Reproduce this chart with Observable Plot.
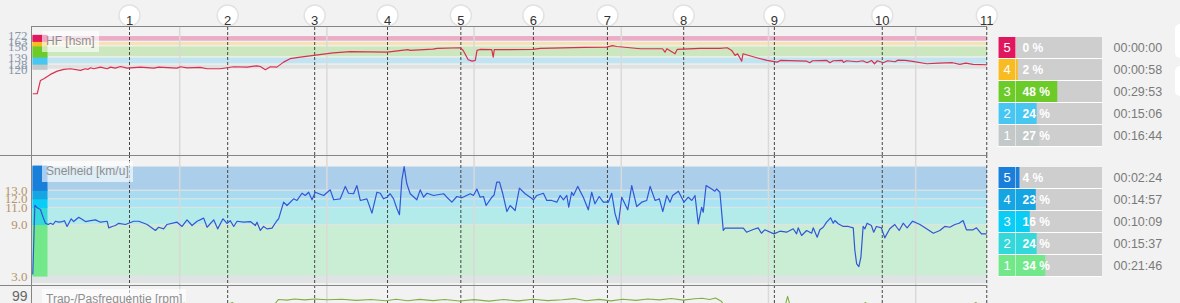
<!DOCTYPE html>
<html>
<head>
<meta charset="utf-8">
<script src="https://cdn.jsdelivr.net/npm/d3@7"></script>
<script src="https://cdn.jsdelivr.net/npm/@observablehq/plot@0.6"></script>
<style>
html,body{margin:0;padding:0;background:#f2f2f2;}
#wrap{position:relative;width:1180px;height:303px;overflow:hidden;font-family:"Liberation Sans",Arial,sans-serif;}
#wrap svg{position:absolute;overflow:hidden !important;max-width:none !important;}
.hl{position:absolute;background:#858585;z-index:5;}
.box{position:absolute;background:rgba(255,255,255,0.62);color:#8e8e8e;font-size:12px;line-height:21px;padding:0 4px;height:21px;white-space:nowrap;z-index:6;}
.tab{position:absolute;background:#fff;}
.nub{position:absolute;background:#fff;border-radius:5px;}
</style>
</head>
<body>
<div id="wrap"></div>
<script>
// ---------- data ----------
const totalMin = 64.88;
const lapNo  = [1, 2, 3, 4, 5, 6, 7, 8, 9, 10, 11];
const lapMin = [6.59, 13.26, 19.17, 24.12, 29.1, 34.03, 39.06, 44.24, 50.4, 57.73, 64.83];
const gridMin = [10, 20, 30, 40, 50, 60];

const hrT = [0.05,0.32,0.54,0.77,1.22,1.68,2.13,2.58,3.26,3.6,3.76,3.94,4.16,4.62,5.07,5.3,5.63,5.97,6.43,7.33,8.24,8.57,9.82,10.05,10.5,11.4,11.86,12.76,13.67,14.58,15.25,15.48,15.82,16.16,16.6,17.06,17.5,18.19,20.43,21.59,24.1,25.5,25.66,27.2,27.5,29.06,29.26,29.6,29.87,30.08,30.2,30.4,31.2,31.3,31.37,34.0,34.5,36.0,37.5,39.0,39.4,39.7,41.3,42.8,42.97,43.1,43.65,43.8,45.35,46.7,47.2,47.5,47.73,47.9,48.18,48.27,48.5,49.2,49.9,50.6,50.8,52.6,52.8,53.0,53.97,54.17,54.4,55.0,55.1,55.3,56.0,56.4,56.7,57.0,57.2,57.4,57.8,58.1,58.6,58.8,59.3,59.8,60.75,61.6,62.5,63.0,63.4,63.9,64.83];
const hrBpm = [83,83,103.5,106,112.8,117.8,120.5,121.5,119,121.5,120.5,123,121.5,124,121.5,124,122.5,125,122.5,124,122.5,124,122.5,124.6,123,123.5,121.5,121.5,124.6,124,126,125,120,124.6,124,131.7,137,139.4,146,148,147,151,149.7,151.7,153,153.8,149.7,135.4,133.2,134.3,149.7,151.2,150.8,139.4,150.8,151.2,153,153.5,154.5,154.8,157,155.8,152.3,152.3,147,152.3,144.6,151.2,153,153,153.8,149.7,142,144.6,133.2,144.6,143,138.5,134.3,131.7,134.3,133.2,130.8,133.8,134.3,130.8,133.8,134.3,131.2,133.8,132.3,133.8,130.8,134.3,129.2,133.8,130.8,133.8,132.3,134.8,134.3,132.8,129.2,130.2,130.8,128.2,130.2,128.2,127.7];

const spdT = [0.02,0.16,0.32,0.54,0.72,0.88,1.07,1.22,1.4,1.56,1.79,2.01,2.17,2.35,2.63,2.8,3.14,3.6,3.94,4.28,4.62,5.07,5.18,5.41,5.63,5.86,6.31,6.88,7.22,7.79,8.35,8.57,8.91,9.14,9.82,10.16,10.5,10.84,11.18,11.63,11.86,12.31,12.58,12.94,13.22,13.44,13.67,13.9,14.35,14.8,15.14,15.25,15.48,15.7,15.93,16.27,16.6,16.72,17.06,17.29,17.74,17.97,18.31,18.53,18.76,18.99,19.21,19.78,20.23,20.46,20.91,21.25,21.47,21.81,22.04,22.27,22.72,23.06,23.4,23.63,23.85,24.08,24.3,24.53,24.76,24.93,25.09,25.25,25.43,25.66,26.11,26.34,26.57,26.8,27.25,27.93,28.15,28.49,28.83,29.17,29.74,29.96,30.19,30.41,30.64,30.82,31.21,31.36,31.54,31.73,31.95,32.23,32.45,32.79,33.08,33.47,33.81,34.03,34.26,34.71,34.94,35.28,35.62,35.85,36.07,36.3,36.43,36.63,36.75,37.04,37.42,37.76,37.99,38.21,38.5,38.78,39.12,39.35,39.58,39.8,40.03,40.44,40.71,41.05,41.39,41.73,41.96,42.3,42.59,42.82,43.09,43.31,43.49,43.88,44.26,44.55,44.79,45.01,45.23,45.46,45.57,45.76,46.14,46.36,46.48,46.7,46.93,47.05,48.29,48.51,48.96,49.3,49.52,49.75,50.37,50.78,51.23,51.46,51.68,51.91,52.02,52.25,52.59,52.93,53.04,53.31,53.49,53.72,53.95,54.22,54.4,54.51,54.74,55.08,55.42,55.76,55.87,55.99,56.14,56.28,56.43,56.55,56.7,56.99,57.15,57.33,57.67,57.9,58.24,58.58,58.88,59.15,59.42,59.79,59.95,60.29,60.74,61.2,61.64,61.98,62.32,62.66,62.95,63.22,63.45,63.9,64.13,64.47,64.8];
const spdV = [3.3,11.3,11.0,10.8,9.9,9.2,9.06,9.2,9.06,9.44,9.33,9.4,9.5,8.83,9.72,9.4,9.9,9.4,9.5,9.6,9.33,9.44,8.67,8.83,8.94,9.2,9.06,9.44,9.44,9.06,8.36,8.74,8.55,9.06,9.33,8.83,9.6,8.94,9.44,9.8,8.74,9.6,8.55,9.72,9.2,9.5,8.83,9.44,9.33,9.4,8.94,9.33,8.36,8.83,8.55,8.63,9.5,9.72,11.66,11.27,12.05,11.86,12.7,12.44,12.82,11.94,12.82,12.44,13.1,11.94,12.05,13.5,12.7,12.64,13.6,11.86,12.05,10.38,12.82,12.7,12.05,12.24,12.64,12.05,10.9,10.2,14.2,15.8,13.8,12.64,11.94,13.1,12.24,12.7,12.44,12.64,12.24,11.66,12.32,12.17,12.64,12.44,13.2,12.24,12.32,11.27,12.24,12.5,14.0,14.0,12.64,10.57,11.27,10.69,13.3,12.64,12.24,11.94,12.44,12.7,11.86,11.86,11.66,12.44,11.94,12.44,11.07,12.82,12.44,13.5,12.24,10.77,12.82,11.47,12.32,11.66,11.66,12.7,10.3,9.06,12.24,10.77,13.6,11.15,11.66,11.86,13.5,11.86,12.05,10.57,12.44,11.66,12.44,12.94,11.66,12.24,11.86,12.44,9.14,11.07,10.49,13.6,13.2,12.94,13.2,12.82,8.36,8.63,8.63,8.16,8.48,8.67,8.04,8.44,7.97,8.28,8.16,8.36,8.56,7.97,8.67,7.78,8.36,8.04,8.67,7.58,8.44,8.74,9.33,9.84,9.21,9.52,9.14,8.83,8.83,8.67,6.03,4.48,4.16,5.25,8.83,8.56,9.21,8.94,8.16,8.83,8.67,7.5,8.56,9.06,8.36,9.21,8.67,9.44,9.33,9.06,8.56,8.04,8.36,8.83,8.74,9.06,9.21,9.52,8.44,8.44,8.67,7.97,7.97];

const cadT = [0,1,3,5,7,9,10.1,10.3,10.6,12,13.6,14,15,16.3,16.7,17.3,17.8,18.5,19.2,20,21,22,23,24,24.7,25.5,26.3,27.2,28,29,30,31,32,33,34,35,36,36.8,37.6,38.5,39.3,40.1,41,41.8,42.6,43.4,44.2,45,45.5,46,46.4,46.8,47.2,48,50,51.1,51.3,51.5,52,54,56,56.6,57,59,61,63,64.1,64.5,64.88];
const cadV = [80,85,86,86,87,88,88,94,88,87,94,88,87,90,96.5,96,97,96.2,97,96.3,96.8,95.8,96.5,95.5,96.8,95.5,96.6,95.6,96.5,95.3,96.4,95.2,96.5,95.4,96.8,95.6,96.3,97.3,95.5,96.6,95.4,96.8,95.8,97,96.2,97.4,96,97.2,97.6,96.5,97.8,95,88,86,88,90,99.2,90,87,88,89,94,88,87,88,87,94,88,88];

const hrZone = [1, 2, 3, 4, 5];
const hrLow  = [120, 128, 139, 156, 163];
const hrHigh = [128, 139, 156, 163, 172];
const hrPct  = [27, 24, 48, 2, 0];
const hrTime = ["00:16:44", "00:15:06", "00:29:53", "00:00:58", "00:00:00"];
const hrTicks = [120, 128, 139, 156, 163, 172];

const spdZone = [1, 2, 3, 4, 5];
const spdLow  = [3, 9, 11, 12, 13];
const spdHigh = [9, 11, 12, 13, 15.8];
const spdPct  = [34, 24, 16, 23, 4];
const spdTime = ["00:21:46", "00:15:37", "00:10:09", "00:14:57", "00:02:24"];
const spdTicks = [3, 9, 11, 12, 13];
const cadTicks = [99];

// ---------- styles ----------
const hrSat  = {1: "#c3c8c8", 2: "#46c6f0", 3: "#6ccb29", 4: "#f8bb22", 5: "#e0175e"};
const hrBand = {1: "#e0e1e1", 2: "#c2e3f0", 3: "#cce6bd", 4: "#f5e3b8", 5: "#ebadc5"};
const spdSat  = {1: "#72e88b", 2: "#35d8da", 3: "#0acdf6", 4: "#15a5e3", 5: "#1a7edb"};
const spdBand = {1: "#caeed4", 2: "#b3eaea", 3: "#a7e5f5", 4: "#a8daf0", 5: "#abcfea"};

const wrap = document.getElementById("wrap");
function place(node, left, top) {
  node.style.position = "absolute";
  node.style.left = left + "px";
  node.style.top = top + "px";
  wrap.appendChild(node);
}
function div(cls, left, top, w, h, text) {
  const d = document.createElement("div");
  d.className = cls;
  d.style.left = left + "px"; d.style.top = top + "px";
  if (w != null) d.style.width = w + "px";
  if (h != null) d.style.height = h + "px";
  if (text) d.textContent = text;
  wrap.appendChild(d);
  return d;
}

const xOpt = {domain: [0, totalMin], axis: null};
const common = {width: 1000, marginLeft: 32, marginRight: 13, marginBottom: 0};
const refMarks = () => [
  Plot.ruleX(gridMin, {stroke: "#d9d9d9", strokeWidth: 1.5}),
  Plot.ruleX(lapMin, {stroke: "#454545", strokeWidth: 1, strokeDasharray: "3,2"})
];

// ---------- HR panel ----------
const hrIdx = d3.range(hrZone.length);
const hrPlot = Plot.plot({
  ...common, height: 155, marginTop: 27,
  x: xOpt,
  y: {domain: [-12, 185], ticks: hrTicks, tickSize: 0, tickPadding: 5, label: null},
  style: {background: "transparent", fontFamily: "Liberation Serif", fontSize: "13px", color: "#8796ab", overflow: "hidden"},
  marks: [
    Plot.rect(hrIdx, {x1: 0, x2: totalMin, y1: i => hrLow[i], y2: i => hrHigh[i], fill: i => hrBand[hrZone[i]], insetTop: 0.6, insetBottom: 0.6}),
    Plot.ruleX(hrIdx, {x: 0, y1: i => hrLow[i], y2: i => hrHigh[i], stroke: i => hrSat[hrZone[i]], strokeWidth: 15, dx: 7.5, insetTop: 0.6, insetBottom: 0.6}),
    ...refMarks(),
    Plot.line(d3.range(hrT.length), {x: i => hrT[i], y: i => hrBpm[i], stroke: "#dc2f4f", strokeWidth: 1.2, clip: true}),
    Plot.dot(lapMin, {x: d => d, frameAnchor: "top", dy: -12, r: 10.5, fill: "white", stroke: "#e2e2e2"}),
    Plot.text(lapMin, {x: d => d, text: (d, i) => String(lapNo[i]), frameAnchor: "top", dy: -12, fill: "#333", fontSize: 13, fontFamily: "Liberation Sans"})
  ]
});
place(hrPlot, 0, 0);

// ---------- Speed panel ----------
const spdIdx = d3.range(spdZone.length);
const spdDomain = [1.95, 17.1];
const spdPlot = Plot.plot({
  ...common, height: 130, marginTop: 0,
  x: xOpt,
  y: {domain: spdDomain, ticks: spdTicks, tickFormat: d3.format(".1f"), tickSize: 0, tickPadding: 5, label: null},
  style: {background: "transparent", fontFamily: "Liberation Serif", fontSize: "13px", color: "#b3946c", overflow: "hidden"},
  marks: [
    Plot.rect([0], {x1: 0, x2: totalMin, y1: spdDomain[0], y2: d3.max(spdHigh), fill: "#e0e3e4", insetBottom: 2}),
    Plot.rect(spdIdx, {x1: 0, x2: totalMin, y1: i => spdLow[i], y2: i => spdHigh[i], fill: i => spdBand[spdZone[i]], insetTop: 0.6, insetBottom: 0.6}),
    Plot.ruleX(spdIdx, {x: 0, y1: i => spdLow[i], y2: i => spdHigh[i], stroke: i => spdSat[spdZone[i]], strokeWidth: 15, dx: 7.5, insetTop: 0.6, insetBottom: 0.6}),
    ...refMarks(),
    Plot.line(d3.range(spdT.length), {x: i => spdT[i], y: i => spdV[i], stroke: "#2f57d8", strokeWidth: 1.2, clip: true})
  ]
});
place(spdPlot, 0, 155);

// ---------- Cadence panel ----------
const cadPlot = Plot.plot({
  ...common, height: 18, marginTop: 0,
  x: xOpt,
  y: {domain: [93.2, 108.2], ticks: cadTicks, tickSize: 0, tickPadding: 5, label: null},
  style: {background: "transparent", fontFamily: "Liberation Sans", fontSize: "14px", color: "#666", overflow: "hidden"},
  marks: [
    ...refMarks(),
    Plot.line(d3.range(cadT.length), {x: i => cadT[i], y: i => cadV[i], stroke: "#7fb043", strokeWidth: 1.1, clip: true})
  ]
});
place(cadPlot, 0, 285);

// ---------- frame lines & labels ----------
div("hl", 32, 26, 955, 1);
div("hl", 31, 26, 1.3, 277);
div("hl", 0, 154.5, 987, 1.3);
div("hl", 0, 284.5, 987, 1.3);
div("box", 42, 31, null, null, "HF [hsm]");
div("box", 42, 161, null, null, "Snelheid [km/u]");
div("box", 42, 289, null, null, "Trap-/Pasfrequentie [rpm]");

// ---------- zone tables ----------
function zoneTable(zones, pct, time, sat, top) {
  const idx = d3.range(zones.length);
  div("tab", 998, top + 0.5, 104, 110);
  const t = Plot.plot({
    width: 190, height: 111, marginLeft: 26, marginRight: 78, marginTop: 0, marginBottom: 0,
    x: {domain: [0, 100], axis: null},
    y: {type: "band", domain: [5, 4, 3, 2, 1], paddingInner: 0.055, paddingOuter: 0.028, axis: null},
    style: {background: "transparent", fontFamily: "Liberation Sans", fontSize: "12px", overflow: "hidden"},
    marks: [
      Plot.barX(idx, {x1: 0, x2: 100, y: i => zones[i], fill: "#cecece"}),
      Plot.barX(idx, {x1: 0, x2: i => pct[i], y: i => zones[i], fill: i => sat[zones[i]]}),
      Plot.tickX(idx, {x: 0, y: i => zones[i], stroke: i => sat[zones[i]], strokeWidth: 17, dx: -9.5}),
      Plot.text(idx, {x: 0, y: i => zones[i], text: i => String(zones[i]), dx: -9.5, fill: "white", fontSize: 13}),
      Plot.text(idx, {x: 0, y: i => zones[i], text: i => pct[i] + " %", dx: 6, textAnchor: "start", fill: "white", fontWeight: "bold", fontSize: 12}),
      Plot.text(idx, {x: 100, y: i => zones[i], text: i => time[i], dx: 11, textAnchor: "start", fill: "#7a7a7a", fontSize: 12.5})
    ]
  });
  place(t, 990, top);
}
zoneTable(hrZone, hrPct, hrTime, hrSat, 36.1);
zoneTable(spdZone, spdPct, spdTime, spdSat, 166.1);

div("nub", 1175, 24, 14, 34);
div("nub", 1175, 66, 14, 30);
</script>
</body>
</html>
